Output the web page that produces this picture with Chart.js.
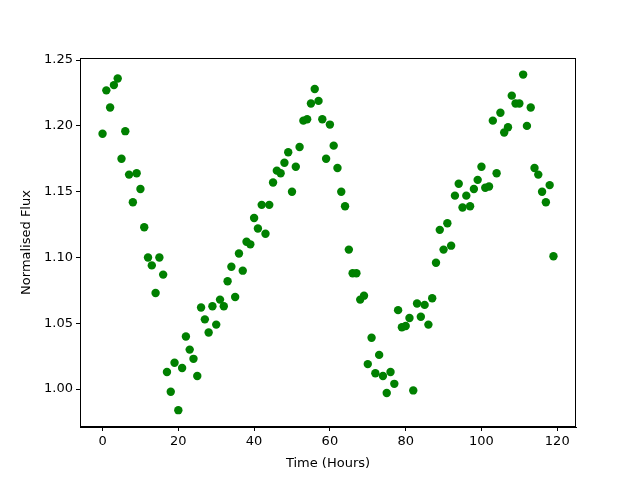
<!DOCTYPE html>
<html>
<head>
<meta charset="utf-8">
<script src="https://cdn.jsdelivr.net/npm/chart.js@4/dist/chart.umd.min.js"></script>
<style>
  html, body { margin: 0; padding: 0; background: #fff; }
  #wrap { width: 640px; height: 480px; }
</style>
</head>
<body>
<div id="wrap"><canvas id="myChart" width="640" height="480"></canvas></div>
<script>
// hours since start
const hours = [];
for (let h = 0; h < 120; h++) hours.push(h);

// normalised flux
const flux = [
  1.194, 1.227, 1.214, 1.231, 1.236, 1.175, 1.196, 1.163, 1.142, 1.164,
  1.152, 1.123, 1.100, 1.094, 1.073, 1.100, 1.087, 1.013, 0.998, 1.020,
  0.984, 1.016, 1.040, 1.030, 1.023, 1.010, 1.062, 1.053, 1.043, 1.063,
  1.049, 1.068, 1.063, 1.082, 1.093, 1.070, 1.103, 1.090, 1.112, 1.110,
  1.130, 1.122, 1.140, 1.118, 1.140, 1.157, 1.166, 1.164, 1.172, 1.180,
  1.150, 1.169, 1.184, 1.204, 1.205, 1.217, 1.228, 1.219, 1.205, 1.175,
  1.201, 1.185, 1.168, 1.150, 1.139, 1.106, 1.088, 1.088, 1.068, 1.071,
  1.019, 1.039, 1.012, 1.026, 1.010, 0.997, 1.013, 1.004, 1.060, 1.047,
  1.048, 1.054, 0.999, 1.065, 1.055, 1.064, 1.049, 1.069, 1.096, 1.121,
  1.106, 1.126, 1.109, 1.147, 1.156, 1.138, 1.147, 1.139, 1.152, 1.159,
  1.169, 1.153, 1.154, 1.204, 1.164, 1.210, 1.195, 1.199, 1.223, 1.217,
  1.217, 1.239, 1.200, 1.214, 1.168, 1.163, 1.150, 1.142, 1.155, 1.101
];

const xTicks = [0, 20, 40, 60, 80, 100, 120];
const yTicks = [1.00, 1.05, 1.10, 1.15, 1.20, 1.25];

const points = hours.map((h, i) => ({ x: h, y: flux[i] }));

// draws the top and right sides of the frame
const frame = {
    id: 'frame',
    afterDraw(chart) {
        const a = chart.chartArea;
        const c = chart.ctx;
        c.save();
        c.strokeStyle = '#000';
        c.lineWidth = 1;
        c.strokeRect(a.left + 0.5, a.top + 0.5, a.right - a.left - 1, a.bottom - a.top - 1);
        c.restore();
    }
};

const font = { family: 'DejaVu Sans', size: 13 };

new Chart(document.getElementById('myChart').getContext('2d'), {
    type: 'scatter',
    data: {
        datasets: [{
            data: points,
            backgroundColor: '#008000',
            borderColor: '#008000',
            pointRadius: 4.2,
            pointHoverRadius: 4.2,
            borderWidth: 0
        }]
    },
    options: {
        responsive: false,
        animation: false,
        layout: { padding: { top: 58, right: 64, left: 0, bottom: 0 } },
        plugins: { legend: { display: false }, tooltip: { enabled: false } },
        scales: {
            x: {
                type: 'linear',
                min: -5.95,
                max: 124.95,
                afterBuildTicks: s => { s.ticks = xTicks.map(v => ({ value: v })); },
                afterFit: s => { s.height = 53; },
                grid: { drawOnChartArea: false, tickLength: 4, color: '#000' },
                border: { color: '#000' },
                ticks: { color: '#000', font: font, padding: 3, maxRotation: 0 },
                title: { display: true, text: 'Time (Hours)', color: '#000', font: font, padding: { top: 0, bottom: 9 } }
            },
            y: {
                type: 'linear',
                min: 0.9712,
                max: 1.2516,
                afterBuildTicks: s => { s.ticks = yTicks.map(v => ({ value: v })); },
                afterFit: s => { s.width = 80; },
                grid: { drawOnChartArea: false, tickLength: 4, color: '#000' },
                border: { color: '#000' },
                ticks: { color: '#000', font: font, padding: 3, callback: v => v.toFixed(2) },
                title: { display: true, text: 'Normalised Flux', color: '#000', font: font, padding: { top: 19, bottom: 0 } }
            }
        }
    },
    plugins: [frame]
});
</script>
</body>
</html>
